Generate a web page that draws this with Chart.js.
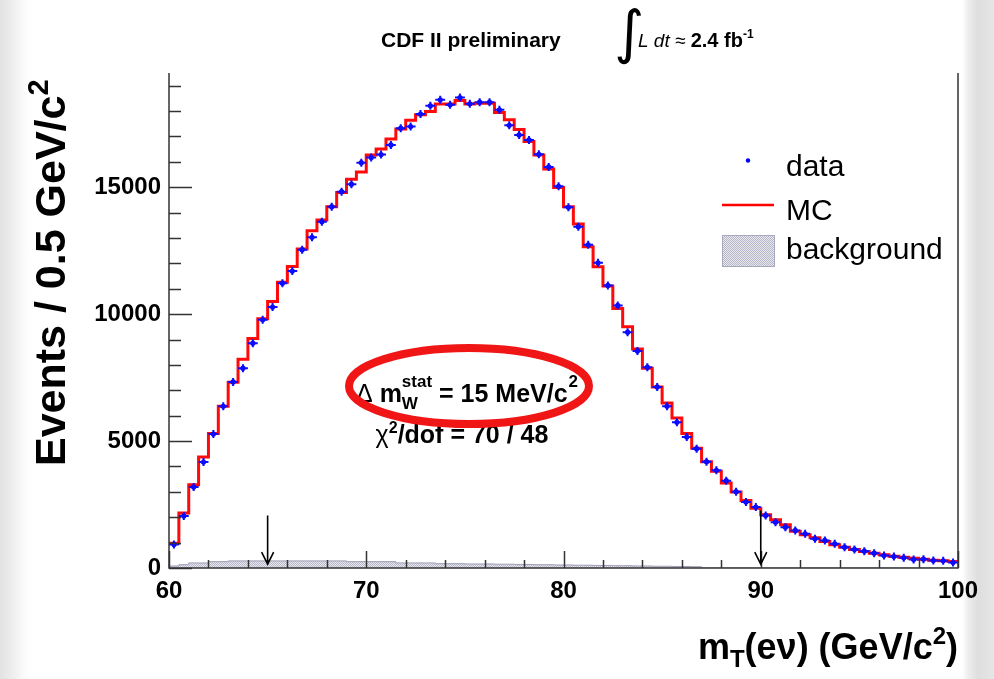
<!DOCTYPE html>
<html><head><meta charset="utf-8">
<script src="https://cdn.jsdelivr.net/npm/chart.js@4.4.1/dist/chart.umd.min.js"></script>
<style>
html,body{margin:0;padding:0;width:994px;height:679px;overflow:hidden;
background:linear-gradient(to right,#e2e2e2 0px,#efefef 14px,#fbfbfb 24px,#ffffff 30px,#ffffff 962px,#eeeeee 968px,#dedede 978px,#e6e6e6 994px);}
#wrap{position:absolute;left:0;top:0;width:994px;height:679px}
</style></head>
<body><div id="wrap"><canvas id="c" width="994" height="679"></canvas></div>
<script>
// ---- data ----
const binCenters = [60.25,60.75,61.25,61.75,62.25,62.75,63.25,63.75,64.25,64.75,65.25,65.75,66.25,66.75,67.25,67.75,68.25,68.75,69.25,69.75,70.25,70.75,71.25,71.75,72.25,72.75,73.25,73.75,74.25,74.75,75.25,75.75,76.25,76.75,77.25,77.75,78.25,78.75,79.25,79.75,80.25,80.75,81.25,81.75,82.25,82.75,83.25,83.75,84.25,84.75,85.25,85.75,86.25,86.75,87.25,87.75,88.25,88.75,89.25,89.75,90.25,90.75,91.25,91.75,92.25,92.75,93.25,93.75,94.25,94.75,95.25,95.75,96.25,96.75,97.25,97.75,98.25,98.75,99.25,99.75];
const binHalfWidth = 0.25;
const dataValues = [927,2044,3189,4175,5279,6371,7331,7870,8857,9780,
10280,11220,11700,12540,13026,13642,14234,14825,15120,15969,
16167,16290,16668,17326,17390,17885,18206,18443,18246,18534,
18285,18352,18352,18048,17440,17062,16865,16300,15800,15035,
14210,13445,12735,12025,11133,10344,9290,8553,7910,7133,
6371,5740,5160,4702,4189,3846,3440,3005,2596,2399,
2071,1807,1610,1479,1349,1152,1085,955,821,730,
663,584,493,454,402,335,347,296,284,217];
const mcValues = [978,2162,3281,4371,5294,6371,7318,8225,9042,9820,
10500,11260,11880,12565,13287,13709,14234,14790,15314,15600,
16273,16510,16900,17293,17640,17857,17982,18280,18280,18415,
18280,18313,18313,17942,17654,17275,16805,16273,15720,14990,
14234,13551,12655,11867,11105,10226,9500,8632,7870,7133,
6501,5910,5294,4714,4189,3807,3345,2990,2663,2350,
2099,1901,1704,1452,1310,1191,1045,915,821,730,
651,584,521,466,426,387,347,308,284,256];
const backgroundValues = [80,130,200,200,250,250,280,280,280,280,280,280,280,280,280,280,280,280,250,250,
250,250,250,200,200,200,200,170,170,170,160,160,160,150,150,140,140,130,130,120,
120,110,110,100,100,90,90,80,80,70,70,60,60,50,0,0,0,0,0,0,
0,0,0,0,0,0,0,0,0,0,0,0,0,0,0,0,0,0,0,0];
const xTickValues = [60,70,80,90,100];
const xTickLabels = ['60','70','80','90','100'];
const yTickValues = [0,5000,10000,15000];
const yTickLabels = ['0','5000','10000','15000'];
const arrowX = [65,90];
const arrowTop = [2070,2270];
const arrowTip = [150,150];

// ---- build ----
const canvas = document.getElementById('c');
const ctx2d = canvas.getContext('2d');
const pc = document.createElement('canvas'); pc.width = 2; pc.height = 2;
const pctx = pc.getContext('2d');
pctx.fillStyle = '#e8e8ef'; pctx.fillRect(0,0,2,2);
pctx.fillStyle = '#b6b6c8'; pctx.fillRect(0,0,1,1); pctx.fillRect(1,1,1,1);
const bgPattern = ctx2d.createPattern(pc,'repeat');

function stepPoints(vals){
  const pts = binCenters.map((c,i)=>({x:c-binHalfWidth, y:vals[i]}));
  const n = binCenters.length-1;
  pts.push({x:binCenters[n]+binHalfWidth, y:vals[n]});
  return pts;
}
const FONT = "'Liberation Sans', Arial, Helvetica, sans-serif";

function drawRich(c, parts, x, y, align){
  let w = 0;
  parts.forEach(p=>{ c.font = (p[4]||'normal')+' '+p[2]+' '+p[1]+'px '+FONT; p.w = c.measureText(p[0]).width; w += p.w; });
  let cx = align==='center' ? x - w/2 : (align==='right' ? x - w : x);
  c.textAlign = 'left'; c.textBaseline = 'alphabetic';
  parts.forEach(p=>{ c.font = (p[4]||'normal')+' '+p[2]+' '+p[1]+'px '+FONT; c.fillText(p[0], cx, y + (p[3]||0)); cx += p.w; });
  return w;
}

const overlay = {
  id:'overlay',
  afterDatasetsDraw(chart){
    const c = chart.ctx, xs = chart.scales.x, ys = chart.scales.y, a = chart.chartArea;
    c.save();
    c.strokeStyle = '#0c0cff'; c.lineWidth = 2;
    binCenters.forEach((b,i)=>{
      const px = xs.getPixelForValue(b), py = ys.getPixelForValue(dataValues[i]);
      c.beginPath();
      c.moveTo(xs.getPixelForValue(b-binHalfWidth), py); c.lineTo(xs.getPixelForValue(b+binHalfWidth), py);
      c.moveTo(px, py-4); c.lineTo(px, py+4);
      c.stroke();
    });
    c.strokeStyle = '#333'; c.lineWidth = 1.5;
    c.beginPath();
    c.moveTo(a.left, a.top); c.lineTo(a.left, a.bottom); c.lineTo(a.right, a.bottom); c.lineTo(a.right, a.top);
    c.stroke();
    for(let v=0; v<=19000; v+=1000){
      const py = Math.round(ys.getPixelForValue(v))+0.5;
      const len = (v%5000===0) ? 23 : 12;
      c.beginPath(); c.moveTo(a.left, py); c.lineTo(a.left+len, py); c.stroke();
    }
    for(let v=60; v<=100; v+=2){
      const px = Math.round(xs.getPixelForValue(v))+0.5;
      const len = (v%10===0) ? 17 : 8;
      c.beginPath(); c.moveTo(px, a.bottom); c.lineTo(px, a.bottom-len); c.stroke();
    }
    c.strokeStyle = '#000'; c.lineWidth = 1.6;
    arrowX.forEach((v,i)=>{
      const px = xs.getPixelForValue(v), y0 = ys.getPixelForValue(arrowTop[i]), y1 = ys.getPixelForValue(arrowTip[i]);
      c.beginPath(); c.moveTo(px,y0); c.lineTo(px,y1);
      c.moveTo(px-6,y1-12); c.lineTo(px,y1); c.lineTo(px+6,y1-12); c.stroke();
    });
    c.restore();
  },
  afterDraw(chart){
    const c = chart.ctx;
    c.save();
    c.fillStyle = '#000';
    // top title
    c.font = 'bold 21px '+FONT; c.textAlign='left'; c.textBaseline='alphabetic';
    c.fillText('CDF II preliminary', 381, 47);
    c.font = '58px '+"'DejaVu Sans', sans-serif";
    c.fillText('\u222B', 614, 52);
    drawRich(c, [['L dt \u2248 ',19,'normal',0,'italic'],['2.4 fb',20,'bold',0],['-1',12,'bold',-9]], 638, 47, 'left');

    // y-axis title
    c.save();
    c.translate(65, 466); c.rotate(-Math.PI/2);
    drawRich(c, [['Events / 0.5 GeV/c',43,'bold',0],['2',29,'bold',-17]], 0, 0, 'left');
    c.restore();
    // x-axis title
    drawRich(c, [['m',36,'bold',0],['T',24,'bold',8],['(e\u03BD) (GeV/c',36,'bold',0],['2',24,'bold',-15],[')',36,'bold',0]], 958, 659, 'right');

    // annotation text
    drawRich(c, [['\u03C7',25,'normal',0],['2',16,'bold',-10],['/dof = 70 / 48',25,'bold',0]], 462, 443, 'center');
    let x0 = 356;
    let w1 = drawRich(c, [['\u0394 ',25,'normal',0],['m',25,'bold',0]], x0, 402, 'left');
    c.font = 'bold 17px '+FONT;
    c.fillText('W', x0+w1, 409);
    c.fillText('stat', x0+w1, 387);
    const wstat = c.measureText('stat').width;
    let w2 = drawRich(c, [[' = 15 MeV/c',25,'bold',0]], x0+w1+wstat, 402, 'left');
    c.font = 'bold 17px '+FONT;
    c.fillText('2', x0+w1+wstat+w2+1, 387);

    // ellipse
    c.strokeStyle = '#f01616'; c.lineWidth = 8;
    c.beginPath(); c.ellipse(469, 386, 120, 38, 0, 0, Math.PI*2); c.stroke();

    // legend
    c.fillStyle = '#0000ff';
    c.beginPath(); c.arc(748, 160.5, 2.2, 0, Math.PI*2); c.fill();
    c.strokeStyle = '#ff0000'; c.lineWidth = 2.5;
    c.beginPath(); c.moveTo(722, 205); c.lineTo(774, 205); c.stroke();
    c.fillStyle = bgPattern; c.fillRect(722, 235, 53, 32);
    c.strokeStyle = '#a8a8c0'; c.lineWidth = 1; c.strokeRect(722.5, 235.5, 52, 31);
    c.fillStyle = '#000'; c.font = '30px '+FONT; c.textAlign='left'; c.textBaseline='alphabetic';
    c.fillText('data', 786, 176);
    c.fillText('MC', 786, 220);
    c.fillText('background', 786, 259);
    c.restore();
  }
};

new Chart(canvas, {
  type:'line',
  data:{
    datasets:[
      {label:'data', type:'scatter', data:binCenters.map((b,i)=>({x:b,y:dataValues[i]})),
        showLine:false, pointRadius:2.6, pointBackgroundColor:'#0000ff', pointBorderWidth:0, borderColor:'#0000ff'},
      {label:'MC', data:stepPoints(mcValues), stepped:true, borderColor:'#ff0a0a', borderWidth:3,
        pointRadius:0, fill:false, tension:0},
      {label:'background', data:stepPoints(backgroundValues), stepped:true, borderColor:'#9e9eb6', borderWidth:1,
        backgroundColor:bgPattern, fill:'origin', pointRadius:0}
    ]
  },
  options:{
    responsive:false, animation:false, devicePixelRatio:1,
    layout:{padding:{top:73, right:36, left:0, bottom:0}},
    plugins:{legend:{display:false}, tooltip:{enabled:false}, title:{display:false}},
    scales:{
      x:{type:'linear', min:60, max:100, position:'bottom',
        grid:{display:false, drawTicks:false}, border:{display:false},
        afterBuildTicks:s=>{ s.ticks = xTickValues.map(v=>({value:v})); },
        afterFit:s=>{ s.height = 111; },
        ticks:{color:'#000', padding:9, maxRotation:0, autoSkip:false,
          font:{family:FONT, size:24, weight:'bold'},
          callback:v=>{ const k = xTickValues.indexOf(v); return k>=0 ? xTickLabels[k] : ''; }}},
      y:{type:'linear', min:0, max:19500,
        grid:{display:false, drawTicks:false}, border:{display:false},
        afterBuildTicks:s=>{ s.ticks = yTickValues.map(v=>({value:v})); },
        afterFit:s=>{ s.width = 169; },
        ticks:{color:'#000', padding:8, autoSkip:false,
          font:{family:FONT, size:24, weight:'bold'},
          callback:v=>{ const k = yTickValues.indexOf(v); return k>=0 ? yTickLabels[k] : ''; }}}
    }
  },
  plugins:[overlay]
});
</script>
</body></html>
